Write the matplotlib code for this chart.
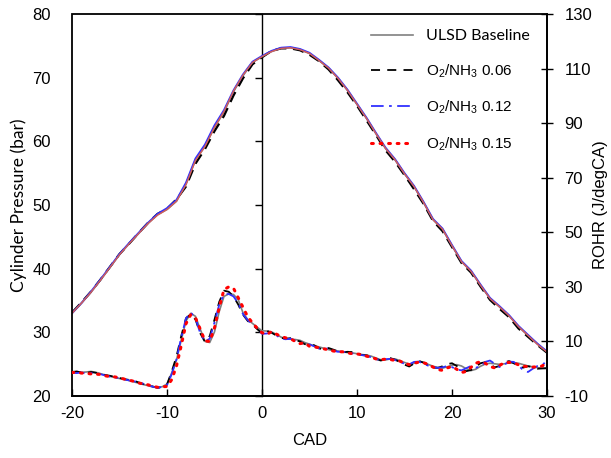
import numpy as np
import matplotlib
matplotlib.use("Agg")
import matplotlib.pyplot as plt
from matplotlib.patches import Rectangle

plt.rcParams['font.family'] = ['Liberation Sans', 'DejaVu Sans']
plt.rcParams['mathtext.fontset'] = 'custom'
plt.rcParams['mathtext.rm'] = 'Liberation Sans'
plt.rcParams['axes.unicode_minus'] = False

# ---------------- data ----------------
cad_p = list(range(-20, 31))
p_base = [33.0, 34.6, 36.3, 38.2, 40.2, 42.2, 43.9, 45.5, 47.1, 48.5,
          49.3, 50.6, 53.3, 57.1, 59.2, 62.2, 64.6, 67.8, 70.3, 72.4,
          73.3, 74.1, 74.6, 74.7, 74.4, 73.8, 72.7, 71.5, 69.9, 68.0,
          65.8, 63.6, 61.2, 58.9, 57.1, 54.9, 52.9, 50.4, 47.7, 46.2,
          43.6, 41.1, 39.6, 37.4, 35.3, 34.0, 32.6, 30.9, 29.5, 28.2, 26.9]
p_006 = [33.1, 34.7, 36.4, 38.3, 40.3, 42.3, 43.9, 45.6, 47.2, 48.6,
         49.4, 50.9, 52.9, 56.5, 58.8, 61.6, 64.0, 67.2, 69.9, 72.1,
         73.2, 74.2, 74.6, 74.6, 74.3, 73.6, 72.6, 71.3, 69.6, 67.7,
         65.6, 63.3, 61.0, 58.6, 56.8, 54.7, 52.5, 50.2, 47.5, 45.9,
         43.4, 40.9, 39.4, 37.2, 35.1, 33.7, 32.4, 30.6, 29.3, 28.0, 26.8]
p_012 = [33.0, 34.6, 36.4, 38.3, 40.3, 42.3, 44.0, 45.6, 47.2, 48.6,
         49.5, 50.8, 53.5, 57.3, 59.5, 62.5, 64.9, 68.0, 70.5, 72.5,
         73.4, 74.2, 74.7, 74.8, 74.5, 73.9, 72.8, 71.6, 70.0, 68.1,
         65.9, 63.7, 61.3, 59.0, 57.2, 55.0, 53.0, 50.5, 47.8, 46.3,
         43.7, 41.2, 39.7, 37.5, 35.4, 34.1, 32.7, 31.0, 29.6, 28.2, 27.0]
p_015 = [33.0, 34.6, 36.3, 38.2, 40.2, 42.2, 43.9, 45.5, 47.1, 48.4,
         49.3, 50.6, 53.2, 57.0, 59.2, 62.2, 64.7, 67.9, 70.4, 72.4,
         73.3, 74.1, 74.6, 74.7, 74.4, 73.8, 72.7, 71.5, 69.9, 68.0,
         65.8, 63.6, 61.2, 58.9, 57.1, 54.9, 52.9, 50.4, 47.7, 46.2,
         43.6, 41.1, 39.6, 37.4, 35.3, 34.0, 32.6, 30.9, 29.5, 28.1, 26.9]

cad_r = [v / 2 for v in range(-40, 61)]
r_base = [-1.3, -1.2, -1.3, -1.2, -1.0, -1.3, -1.8, -2.3, -2.8, -3.2,
          -3.6, -3.9, -4.3, -4.8, -5.3, -5.8, -6.2, -6.7, -6.8, -6.6,
          -5.6, -1.5, 3.2, 10.5, 17.5, 20.3, 19.2, 14.5, 10.0, 9.6,
          13.5, 21.0, 26.5, 27.4, 27.2, 25.3, 20.5, 18.0, 16.6, 15.2,
          13.9, 13.8, 13.5, 12.6, 11.6, 11.0, 10.8, 10.7, 10.4, 9.6,
          9.0, 8.4, 8.0, 7.5, 7.0, 6.6, 6.5, 6.2, 5.9, 5.8,
          5.5, 5.2, 5.0, 4.6, 3.9, 3.3, 3.2, 3.6, 3.6, 3.0,
          2.3, 1.7, 2.0, 2.6, 2.4, 1.6, 0.9, 0.5, 0.2, 0.7,
          1.3, 1.5, 1.0, 0.0, -0.7, -0.2, 0.9, 1.7, 2.0, 1.8,
          1.6, 1.8, 2.1, 2.2, 2.0, 1.5, 1.0, 0.7, 0.4, 0.2, 0.1]
r_006 = [-1.2, -1.0, -1.4, -1.6, -1.2, -1.5, -2.0, -2.3, -2.6, -3.0,
         -3.4, -3.8, -4.1, -4.4, -5.0, -5.6, -6.0, -6.5, -7.0, -6.8,
         -5.8, -1.0, 4.5, 12.0, 18.5, 20.0, 18.0, 13.0, 9.8, 12.0,
         18.0, 24.5, 28.6, 28.2, 26.5, 23.5, 19.8, 17.5, 16.2, 14.5,
         13.0, 13.9, 13.2, 12.2, 11.3, 11.0, 11.2, 10.5, 10.0, 9.0,
         8.8, 8.6, 7.5, 6.9, 7.6, 7.0, 6.4, 6.0, 6.2, 6.1,
         5.6, 5.0, 4.9, 4.5, 3.6, 3.0, 3.4, 3.9, 3.3, 2.5,
         1.5, 0.8, 1.9, 2.9, 2.2, 1.2, 0.4, 0.3, 0.9, 1.7,
         2.0, 1.0, -0.3, -0.9, -0.5, 0.8, 2.0, 2.4, 1.6, 0.5,
         1.0, 2.3, 2.8, 2.0, 0.9, 0.4, 0.9, 0.6, 0.0, 0.1, 0.2]
r_012 = [-1.5, -1.6, -1.4, -1.8, -1.6, -1.7, -2.0, -2.5, -2.9, -3.1,
         -3.5, -3.9, -4.3, -4.6, -4.9, -5.5, -6.0, -6.6, -7.0, -6.7,
         -6.0, -2.0, 3.5, 11.5, 18.5, 20.6, 18.5, 13.0, 10.0, 11.0,
         17.0, 23.5, 27.2, 27.4, 26.5, 24.0, 20.0, 17.8, 16.3, 14.8,
         12.8, 12.9, 13.3, 12.3, 11.0, 10.8, 11.0, 10.3, 9.8, 8.7,
         8.9, 8.2, 7.4, 7.3, 7.4, 6.6, 6.2, 6.2, 6.0, 5.6,
         5.4, 5.0, 4.7, 4.2, 3.5, 3.2, 3.5, 3.6, 3.2, 2.6,
         1.8, 1.6, 2.5, 2.6, 1.9, 1.1, 0.6, 0.3, 0.5, 1.0,
         0.6, -0.3, -0.6, 0.2, 1.0, 0.4, 0.8, 2.5, 3.0, 1.8,
         0.6, 1.5, 2.6, 2.5, 1.2, -0.6, -1.2, 0.0, 1.0, 1.2, 3.2]
r_015 = [-1.4, -1.3, -1.6, -1.7, -1.9, -2.0, -2.1, -2.6, -2.9, -3.0,
         -3.3, -3.8, -4.2, -4.6, -5.2, -5.6, -5.9, -6.4, -6.8, -6.6,
         -6.5, -4.0, 1.0, 8.5, 16.5, 19.8, 18.6, 14.5, 10.2, 10.0,
         15.0, 22.5, 29.0, 30.0, 29.5, 26.0, 22.5, 19.0, 16.8, 14.8,
         13.2, 12.5, 13.6, 12.7, 11.8, 11.3, 11.0, 10.0, 9.2, 9.5,
         8.2, 8.0, 7.7, 7.3, 6.9, 6.5, 6.2, 6.2, 5.8, 5.5,
         5.4, 5.2, 4.6, 4.2, 3.6, 3.3, 3.5, 3.4, 3.0, 2.8,
         2.0, 1.5, 2.0, 2.4, 2.2, 1.6, 0.6, -0.3, -0.6, 0.3,
         0.8, -0.2, -1.4, -1.0, 0.5, 2.0, 2.6, 2.0, 0.8, 0.3,
         1.2, 2.2, 2.3, 2.2, 1.4, 0.9, 0.8, 0.6, 0.7, 1.0, 2.3]

labels = ['ULSD Baseline', 'O$_\\mathregular{2}$/NH$_\\mathregular{3}$ 0.06',
          'O$_\\mathregular{2}$/NH$_\\mathregular{3}$ 0.12',
          'O$_\\mathregular{2}$/NH$_\\mathregular{3}$ 0.15']
x_ticks = [-20, -10, 0, 10, 20, 30]
y1_ticks = [20, 30, 40, 50, 60, 70, 80]
y2_ticks = [-10, 10, 30, 50, 70, 90, 110, 130]

# ---------------- plot ----------------
fig = plt.figure(figsize=(6.11, 4.58), dpi=100)
ax = fig.add_axes([72/611, 62/458, 475/611, 382/458])
ax2 = ax.twinx()

gray = '#808080'
blue = '#3030ff'
red = '#ff0000'

# pressure (left axis)
ax.plot(cad_p, p_base, color=gray, lw=1.2, zorder=3)
ax.plot(cad_p, p_006, color='k', lw=1.6, ls=(0, (5, 3)), zorder=3)
ax.plot(cad_p, p_012, color=blue, lw=1.4, ls='-', zorder=3)
ax.plot(cad_p, p_015, color='#d0605a', lw=1.1, ls='-', zorder=4)

# ROHR (right axis)
ax2.plot(cad_r, r_base, color=gray, lw=1.2, label=labels[0])
ax2.plot(cad_r, r_006, color='k', lw=1.3, ls=(0, (5, 4)), label=labels[1])
ax2.plot(cad_r, r_012, color=blue, lw=1.3, ls=(0, (7, 3, 1.5, 3)), label=labels[2])
ax2.plot(cad_r, r_015, color=red, lw=2.2, ls=(0, (0.6, 2.2)), dash_capstyle='round', label=labels[3])

ax.set_xlim(-20, 30)
ax.set_ylim(20, 80)
ax2.set_ylim(-10, 130)
ax.set_xticks(x_ticks)
ax.set_yticks(y1_ticks)
ax2.set_yticks(y2_ticks)

for a in (ax, ax2):
    for s in a.spines.values():
        s.set_visible(False)

# left axis line at CAD = 0 with outward ticks, labels at the far left
ax.spines['left'].set_visible(True)
ax.spines['left'].set_position(('data', 0))
ax.spines['left'].set_color('k')
ax.spines['left'].set_linewidth(1.0)
ax.tick_params(axis='y', direction='out', length=5, width=1, pad=147,
               labelsize=12, colors='k')
ax.tick_params(axis='x', direction='in', length=5, width=1, pad=7,
               labelsize=12, top=False)
ax.spines['bottom'].set_visible(True)
ax.spines['bottom'].set_linewidth(1.3)

ax2.spines['right'].set_visible(True)
ax2.spines['right'].set_linewidth(1.3)
ax2.tick_params(axis='y', direction='inout', length=9, width=1, pad=8,
                labelsize=12)

# plot frame
ax.add_patch(Rectangle((0, 0), 1, 1, transform=ax.transAxes, fill=False,
                       edgecolor='k', lw=1.3, zorder=5, clip_on=False))

ax.set_xlabel('CAD', fontsize=12, labelpad=9)
ax.set_ylabel('Cylinder Pressure (bar)', fontsize=12.5, family=['Lato', 'DejaVu Sans'])
ax.yaxis.set_label_coords(-0.095, 0.5)
ax2.set_ylabel('ROHR (J/degCA)', fontsize=12)
ax2.yaxis.set_label_coords(1.097, 0.5)

leg = ax2.legend(loc='upper right', frameon=False, fontsize=11,
                 handlelength=2.75, handletextpad=0.85, labelspacing=1.25,
                 borderaxespad=0.0, bbox_to_anchor=(0.977, 0.977))
leg.get_texts()[0].set_fontfamily(['Lato', 'DejaVu Sans'])
leg.get_texts()[0].set_fontsize(11.5)

fig.savefig('out.png', dpi=100)
